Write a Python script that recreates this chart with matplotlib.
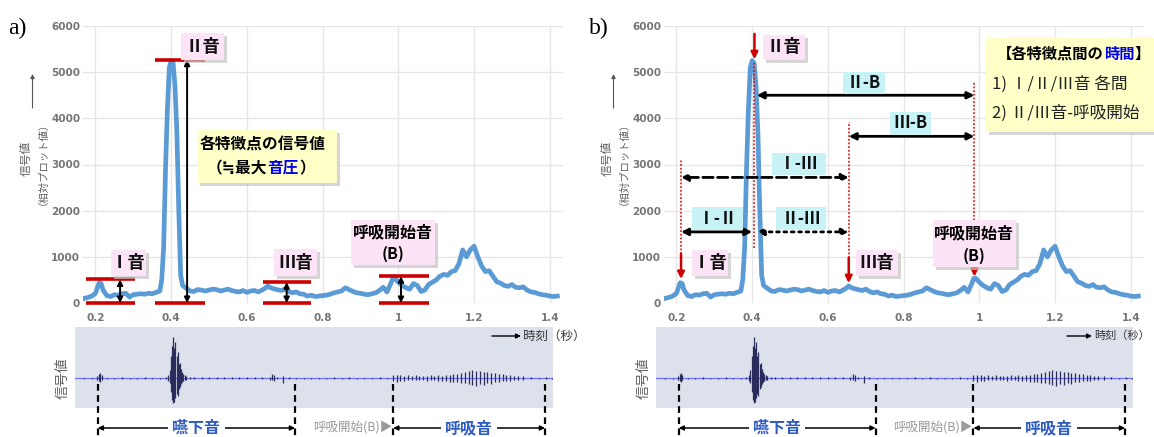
import matplotlib.pyplot as plt
from matplotlib.patches import Rectangle

plt.rcParams['font.family'] = ['Noto Sans CJK JP', 'DejaVu Sans']

# relative plot value of the sound signal (upper charts)
time_s = [0.17, 0.18, 0.19, 0.20, 0.205, 0.21, 0.215, 0.22, 0.23, 0.24, 0.25, 0.26, 0.27, 0.28, 0.29,
          0.30, 0.31, 0.32, 0.33, 0.34, 0.35, 0.36, 0.37, 0.375, 0.38, 0.385, 0.39, 0.395, 0.40, 0.405,
          0.41, 0.415, 0.42, 0.425, 0.43, 0.44, 0.45, 0.46, 0.47, 0.48, 0.49, 0.50, 0.51, 0.52, 0.53,
          0.54, 0.55, 0.56, 0.57, 0.58, 0.59, 0.60, 0.61, 0.62, 0.63, 0.64, 0.65, 0.655, 0.66, 0.67,
          0.68, 0.69, 0.70, 0.71, 0.72, 0.73, 0.74, 0.75, 0.76, 0.77, 0.78, 0.79, 0.80, 0.81, 0.82,
          0.83, 0.84, 0.85, 0.86, 0.87, 0.88, 0.89, 0.90, 0.91, 0.92, 0.93, 0.94, 0.95, 0.96, 0.97,
          0.98, 0.985, 0.99, 1.00, 1.01, 1.02, 1.03, 1.04, 1.05, 1.06, 1.07, 1.08, 1.09, 1.10, 1.11,
          1.12, 1.13, 1.14, 1.15, 1.16, 1.17, 1.18, 1.19, 1.20, 1.21, 1.22, 1.23, 1.24, 1.25, 1.26,
          1.27, 1.28, 1.29, 1.30, 1.31, 1.32, 1.33, 1.34, 1.35, 1.36, 1.37, 1.38, 1.39, 1.40, 1.41, 1.42]
signal = [100, 120, 150, 210, 330, 440, 420, 280, 160, 140, 180, 170, 200, 210, 130,
          180, 190, 200, 190, 210, 200, 230, 260, 500, 1200, 2900, 4200, 5100, 5250, 5200,
          4700, 3700, 2000, 600, 380, 320, 260, 250, 290, 280, 260, 280, 300, 290, 260,
          280, 300, 270, 250, 240, 270, 230, 260, 270, 240, 280, 330, 370, 340, 310,
          290, 270, 300, 250, 220, 240, 200, 190, 150, 170, 140, 150, 160, 170, 190,
          220, 240, 260, 330, 290, 250, 220, 210, 190, 180, 200, 220, 270, 340, 240,
          420, 530, 540, 450, 380, 330, 300, 420, 380, 250, 280, 400, 450, 500, 580,
          620, 600, 680, 700, 850, 1150, 1000, 1150, 1230, 1000, 800, 680, 700, 580, 460,
          430, 380, 360, 400, 340, 330, 350, 280, 240, 230, 200, 180, 170, 150, 140, 150]

xticks = [0.2, 0.4, 0.6, 0.8, 1.0, 1.2, 1.4]
xtick_labels = ['0.2', '0.4', '0.6', '0.8', '1', '1.2', '1.4']
yticks = [0, 1000, 2000, 3000, 4000, 5000, 6000]

# raw waveform (lower strips): time, upper / lower excursion
wave_t = [0.17, 0.19, 0.205, 0.209, 0.212, 0.216, 0.23, 0.25, 0.27, 0.29, 0.31, 0.33, 0.35, 0.37, 0.385,
          0.392, 0.396, 0.399, 0.402, 0.405, 0.408, 0.411, 0.414, 0.417, 0.420, 0.423, 0.426, 0.429, 0.432, 0.436,
          0.44, 0.45, 0.46, 0.48, 0.50, 0.52, 0.54, 0.56, 0.58, 0.60, 0.62, 0.64, 0.66, 0.666, 0.672,
          0.68, 0.695, 0.71, 0.73, 0.75, 0.77, 0.79, 0.81, 0.83, 0.85, 0.87, 0.89, 0.91, 0.93, 0.95, 0.97,
          0.985, 0.995, 1.005, 1.015, 1.025, 1.035, 1.045, 1.055, 1.065, 1.075, 1.085, 1.095, 1.105, 1.115,
          1.125, 1.135, 1.145, 1.155, 1.165, 1.175, 1.185, 1.195, 1.205, 1.215, 1.225, 1.235, 1.245, 1.255,
          1.265, 1.275, 1.285, 1.295, 1.305, 1.315, 1.33, 1.35, 1.37, 1.39, 1.405]
wave_up = [0.5, 0.5, 2, 4, 5, 3, 0.5, 0.5, 1, 0.5, 0.5, 1, 0.5, 0.5, 1,
           3, 8, 22, 32, 41, 30, 36, 22, 26, 14, 15, 9, 6, 4, 3,
           2, 1.5, 1, 1, 1.5, 1, 1.5, 1, 1.5, 1, 1.5, 1, 1.5, 4, 3,
           1, 2, 1, 0.5, 0.5, 0.5, 0.5, 0.5, 1, 0.5, 1, 0.5, 0.5, 0.5, 1, 0.5,
           3, 3, 3, 2, 3, 2, 3, 2, 2, 2, 3, 2, 3, 2,
           3, 3, 4, 4, 5, 6, 7, 8, 7, 7, 6, 6, 5, 5,
           4, 4, 3, 3, 2, 2, 2, 1, 0.5, 1, 0.5]
wave_dn = [0.5, 0.5, 2, 3, 4, 2, 0.5, 0.5, 0.5, 0.5, 0.5, 0.5, 0.5, 0.5, 0.5,
           3, 5, 14, 22, 25, 24, 20, 16, 18, 11, 9, 6, 4, 3, 2,
           2, 1, 1, 1, 1, 1, 1, 1, 1, 1, 1, 1, 1.5, 2, 3,
           1, 5, 1, 0.5, 0.5, 0.5, 0.5, 0.5, 0.5, 0.5, 0.5, 0.5, 1, 0.5, 0.5, 0.5,
           3, 4, 3, 3, 2, 2, 2, 2, 2, 3, 2, 2, 3, 3,
           3, 4, 4, 4, 5, 5, 6, 7, 8, 6, 7, 5, 6, 4,
           4, 3, 3, 3, 2, 2, 2, 1, 0.5, 0.5, 0.5]

# characteristic points
feat_name = ['Ⅰ音', 'Ⅱ音', 'Ⅲ音', '呼吸開始音']
feat_t = [0.212, 0.406, 0.655, 0.987]
feat_level = [510, 5270, 450, 580]

# intervals shown in b)
pair_from = [0, 1, 0, 1, 2]
pair_to = [1, 2, 2, 3, 3]
pair_label = ['Ⅰ-Ⅱ', 'Ⅱ-Ⅲ', 'Ⅰ-Ⅲ', 'Ⅱ-B', 'Ⅲ-B']
pair_y = [1540, 1540, 2720, 4500, 3610]

# segments of the lower strip
seg_t = [0.206, 0.727, 0.986, 1.387]

W, H = 1154, 437
fig = plt.figure(figsize=(W / 100, H / 100), dpi=100)


def px_axes(x0, y0, x1, y1, **kw):
    return fig.add_axes([x0 / W, 1 - y1 / H, (x1 - x0) / W, (y1 - y0) / H], **kw)


ov = fig.add_axes([0, 0, 1, 1], zorder=20)
ov.set_xlim(0, W)
ov.set_ylim(H, 0)
ov.axis('off')

PINK = '#fce3f6'
YELLOW = '#ffffc8'
CYAN = '#c8f3f6'
RED = '#cc0000'
BLUE_TXT = '#0000ee'


def box(x0, y0, x1, y1, fc, shadow=True):
    if shadow:
        ov.add_patch(Rectangle((x0 + 3, y0 + 3), x1 - x0, y1 - y0, fc='#c4c4c4', ec='none', alpha=0.7))
    ov.add_patch(Rectangle((x0, y0), x1 - x0, y1 - y0, fc=fc, ec='none'))


def label_box(x0, y0, x1, y1, text, fc=PINK, size=12.5, shadow=True):
    box(x0, y0, x1, y1, fc, shadow)
    ov.text((x0 + x1) / 2, (y0 + y1) / 2, text, ha='center', va='center',
            fontsize=size, fontweight='bold', color='#111111')


def runs(x, y, parts, **kw):
    t = ov.text(x, y, parts[0][0], color=parts[0][1], ha='left', va='center', **kw)
    for s, c in parts[1:]:
        t = ov.annotate(s, xy=(1, 0), xycoords=t, ha='left', va='bottom', color=c, **kw)


def top_chart(ax):
    ax.plot(time_s, signal, color='#5b9bd5', lw=3.4, solid_joinstyle='round', zorder=3)
    ax.set_xlim(0.167, 1.435)
    ax.set_ylim(0, 6000)
    ax.set_xticks(xticks)
    ax.set_xticklabels(xtick_labels)
    ax.set_yticks(yticks)
    ax.grid(True, color='#e6e6e6', lw=1)
    ax.set_axisbelow(True)
    for s in ax.spines.values():
        s.set_visible(False)
    ax.tick_params(length=0, labelsize=7.5, labelcolor='#757575')
    ax.tick_params(axis='x', pad=7)
    ax.tick_params(axis='y', pad=2)
    for lab in ax.get_xticklabels() + ax.get_yticklabels():
        lab.set_fontweight('bold')
        lab.set_fontfamily('DejaVu Sans')


def bottom_strip(ax):
    ax.set_facecolor('#dde1eb')
    ax.set_xlim(0.146, 1.408)
    ax.set_ylim(-30, 51)
    ax.axhline(0, color='#7070ff', lw=0.9)
    ax.vlines(wave_t, [-d for d in wave_dn], wave_up, color='#2a2d5c', lw=0.9)
    ax.set_xticks([])
    ax.set_yticks([])
    for s in ax.spines.values():
        s.set_visible(False)
    # segment markers below the strip
    for t in seg_t:
        ax.plot([t, t], [-6, -62], color='black', lw=1.6, ls=(0, (3, 2)), clip_on=False)
    ya = -50
    ax.annotate('', xy=(seg_t[0], ya), xytext=(seg_t[1], ya), annotation_clip=False,
                arrowprops=dict(arrowstyle='<|-|>', color='black', lw=1.1, mutation_scale=7,
                                shrinkA=0, shrinkB=0))
    ax.annotate('', xy=(seg_t[2], ya), xytext=(seg_t[3], ya), annotation_clip=False,
                arrowprops=dict(arrowstyle='<|-|>', color='black', lw=1.1, mutation_scale=7,
                                shrinkA=0, shrinkB=0))
    ax.text((seg_t[0] + seg_t[1]) / 2, ya, '嚥下音', ha='center', va='center', fontsize=11.5,
            fontweight='bold', color='#2e5cc0', clip_on=False,
            bbox=dict(fc='white', ec='none', pad=3))
    ax.text((seg_t[2] + seg_t[3]) / 2, ya, '呼吸音', ha='center', va='center', fontsize=11.5,
            fontweight='bold', color='#2e5cc0', clip_on=False,
            bbox=dict(fc='white', ec='none', pad=3))
    ax.text(seg_t[2] - 0.003, ya, '呼吸開始(B)▶', ha='right', va='center', fontsize=9,
            color='#9a9a9a', clip_on=False, family=['Noto Sans CJK JP', 'DejaVu Sans'])


def panel_common(dx, letter, ax0=492, ax1=521, tx=523, tsize=9):
    ov.text(8 + dx, 28, letter, fontsize=17, family='Liberation Serif', va='center', ha='left')
    ov.annotate('', xy=(32.5 + dx, 74), xytext=(32.5 + dx, 108),
                arrowprops=dict(arrowstyle='-|>', color='#555555', lw=0.8, mutation_scale=6,
                                shrinkA=0, shrinkB=0))
    ov.text(26 + dx, 158, '信号値', rotation=90, ha='center', va='center', fontsize=8.5, color='#606060')
    ov.text(38 + dx, 158, '（相対プロット値）', rotation=90, ha='center', va='center', fontsize=7.5,
            color='#606060')
    ov.text(63 + dx, 378, '信号値', rotation=90, ha='center', va='center', fontsize=10, color='#606060')
    ov.annotate('', xy=(ax1 + dx, 336), xytext=(ax0 + dx, 336),
                arrowprops=dict(arrowstyle='-|>', color='black', lw=1.0, mutation_scale=7,
                                shrinkA=0, shrinkB=0))
    ov.text(tx + dx, 336, '時刻（秒）', ha='left', va='center', fontsize=tsize, color='#333333')


# ---------------- a) signal value of each point
axa = px_axes(83, 26, 563, 303)
top_chart(axa)
bottom_strip(px_axes(75, 327, 553, 408))
panel_common(0, 'a)')

red_span = [(0.175, 0.305), (0.357, 0.489), (0.642, 0.770), (0.948, 1.080)]
arrow_x = [0.265, 0.442, 0.705, 1.007]
for i in range(len(feat_t)):
    x0, x1 = red_span[i]
    axa.hlines([0, feat_level[i]], x0, x1, color=RED, lw=2.6, zorder=5, clip_on=False)
    axa.annotate('', xy=(arrow_x[i], 0), xytext=(arrow_x[i], feat_level[i]), annotation_clip=False,
                 arrowprops=dict(arrowstyle='<|-|>', color='black', lw=1.4, mutation_scale=8,
                                 shrinkA=0, shrinkB=0), zorder=6)

label_box(181, 33, 224, 60, feat_name[1])
label_box(111, 250, 146, 276, feat_name[0])
label_box(274, 249, 317, 276, feat_name[2])
box(351, 220, 435, 265, PINK)
ov.text(393, 232, feat_name[3], ha='center', va='center', fontsize=11.5, fontweight='bold')
ov.text(393, 254, '(B)', ha='center', va='center', fontsize=11.5, fontweight='bold')

box(197, 130, 337, 183, YELLOW)
ov.text(200, 145, '各特徴点の信号値', ha='left', va='center', fontsize=11.3, fontweight='bold')
runs(207, 168, [('（≒最大', 'black'), ('音圧', BLUE_TXT), ('）', 'black')],
     fontsize=11.3, fontweight='bold')

# ---------------- b) time between points
axb = px_axes(664, 26, 1144, 303)
top_chart(axb)
bottom_strip(px_axes(656, 327, 1133, 408))
panel_common(581, 'b)', ax0=486, ax1=511, tx=513, tsize=8)

arrow_top = [1065, 5830, 980, 760]
arrow_tip = [520, 5280, 430, 570]
dot_lo = [1065, 1200, 980, 760]
dot_hi = [3110, 5200, 3920, 4800]
for i in range(len(feat_t)):
    axb.plot([feat_t[i], feat_t[i]], [dot_lo[i], dot_hi[i]], color='#e00000', lw=1.1,
             ls=(0, (1.2, 1.2)), zorder=6)
    axb.annotate('', xy=(feat_t[i], arrow_tip[i]), xytext=(feat_t[i], arrow_top[i]),
                 annotation_clip=False, zorder=7,
                 arrowprops=dict(arrowstyle='-|>', color=RED, lw=1.8, mutation_scale=10,
                                 shrinkA=0, shrinkB=0))

styles = ['-', ':', '--', '-', '-']
for k in range(len(pair_label)):
    a = feat_t[pair_from[k]]
    b = feat_t[pair_to[k]]
    if pair_from[k] == 1:
        a += 0.006
    if pair_to[k] == 1:
        b -= 0.006
    axb.annotate('', xy=(a, pair_y[k]), xytext=(b, pair_y[k]), zorder=8,
                 arrowprops=dict(arrowstyle='<|-|>', color='black', lw=2.0, mutation_scale=10,
                                 shrinkA=0, shrinkB=0, linestyle=styles[k]))

pair_box = [(692, 207, 743, 230), (776, 207, 826, 230), (772, 153, 826, 175),
            (843, 72, 885, 94), (890, 112, 931, 135)]
for k in range(len(pair_label)):
    x0, y0, x1, y1 = pair_box[k]
    label_box(x0, y0, x1, y1, pair_label[k], fc=CYAN, size=12, shadow=False)

label_box(763, 35, 805, 60, feat_name[1])
label_box(692, 250, 728, 276, feat_name[0])
label_box(856, 250, 898, 276, feat_name[2])
box(933, 220, 1016, 267, PINK)
ov.text(974, 233, feat_name[3], ha='center', va='center', fontsize=11.5, fontweight='bold')
ov.text(974, 256, '(B)', ha='center', va='center', fontsize=11.5, fontweight='bold')

box(986, 37, 1160, 132, YELLOW)
runs(997, 54, [('【各特徴点間の', 'black'), ('時間', BLUE_TXT), ('】', 'black')],
     fontsize=11, fontweight='bold')
ov.text(992, 84, '1) Ⅰ/Ⅱ/Ⅲ音 各間', ha='left', va='center', fontsize=12, color='#222222')
ov.text(992, 113, '2) Ⅱ/Ⅲ音-呼吸開始', ha='left', va='center', fontsize=12, color='#222222')

fig.savefig('out.png', dpi=100)
